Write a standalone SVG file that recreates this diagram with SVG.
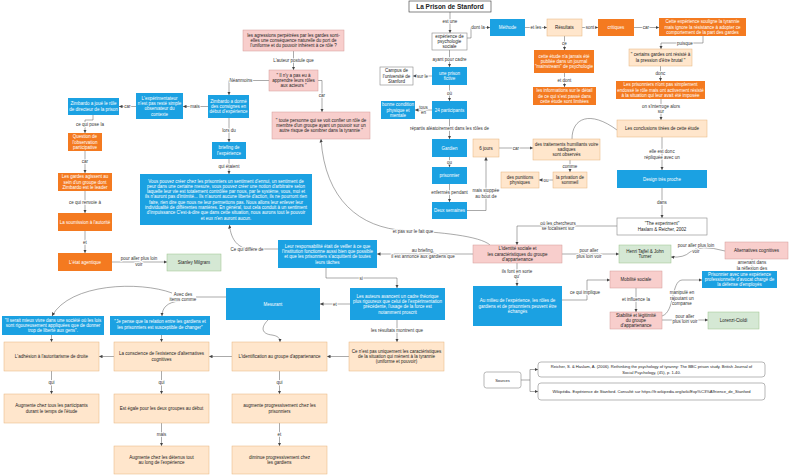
<svg xmlns="http://www.w3.org/2000/svg" width="800" height="475" viewBox="0 0 800 475">
<defs>
<style>
.b{fill:#1ba1e2}
.o{fill:#f47a20}
.lo{fill:#ffe6cc;stroke:#e6b47c;stroke-width:.5}
.pk{fill:#f8cecc;stroke:#d49a98;stroke-width:.5}
.gr{fill:#d5e8d4;stroke:#9cc28a;stroke-width:.5}
.w{fill:#fff;stroke:#888;stroke-width:.6}
text{font-family:"Liberation Sans",Arial,sans-serif;font-size:4.5px;text-anchor:middle}
.wt{fill:#fff}
.dk{fill:#222}
.l{fill:#333;stroke:#fff;stroke-width:1.6;paint-order:stroke}
.e{fill:none;stroke:#555;stroke-width:.5}
.ea{fill:none;stroke:#555;stroke-width:.5;marker-end:url(#a)}
</style>
<marker id="a" viewBox="0 0 6 6" refX="6" refY="3" markerWidth="3.5" markerHeight="3.5" markerUnits="userSpaceOnUse" orient="auto"><path d="M0,0 L6,3 L0,6 z" fill="#444"/></marker>
</defs>
<rect width="800" height="475" fill="#fff"/>

<g id="connectors">
<path class="ea" d="M450,12 V33"/><text class="l" x="450" y="23">est une</text>
<path class="ea" d="M467,38 H471 V27.5 H490"/><text class="l" x="478" y="29">dont la</text>
<path class="ea" d="M525,27.5 H547"/><text class="l" x="536" y="29">et les</text>
<path class="ea" d="M582,27.5 H598"/><text class="l" x="590" y="29">sont</text>
<path class="ea" d="M634,27.5 H659"/><text class="l" x="646" y="29">car</text>
<path class="ea" d="M564.5,36 V50"/><text class="l" x="564.5" y="44.5">ce</text>
<path class="ea" d="M564.5,73 V87"/><text class="l" x="564.5" y="81.5">et dont</text>
<path class="ea" d="M703,36 V43 H661 V49"/><text class="l" x="685" y="44.5">puisque</text>
<path class="ea" d="M660.5,66 V81"/><text class="l" x="660.5" y="75">donc</text>
<path class="ea" d="M661,99 V120"/><text class="l" x="661" y="107.5">on s'interroge alors</text><text class="l" x="661" y="113">sur</text>
<path class="ea" d="M662,137 V170"/><text class="l" x="662" y="153">elle est donc</text><text class="l" x="662" y="158.5">répliquée avec un</text>
<path class="ea" d="M662,188 V218"/><text class="l" x="662" y="204">dans</text>
<path class="ea" d="M617,226 H517 V245"/><text class="l" x="558" y="224.5">où les chercheurs</text><text class="l" x="558" y="230">se focalisent sur</text>
<path class="ea" d="M449.5,50 V67"/><text class="l" x="449.5" y="60.5">ayant pour cadre</text>
<path class="ea" d="M432,76 H413"/><text class="l" x="422.5" y="77.5">sur le</text>
<path class="ea" d="M449.5,85 V101"/><text class="l" x="449.5" y="94.5">où</text>
<path class="ea" d="M432,110 H415"/><text class="l" x="423.5" y="108.5">tous</text><text class="l" x="423.5" y="114">en</text>
<path class="ea" d="M449.5,119 V139"/><text class="l" x="449.5" y="130">répartis aléatoirement dans les rôles de</text>
<path class="ea" d="M449.5,157 V167"/><text class="l" x="449.5" y="163.5">ou</text>
<path class="ea" d="M449.5,184 V202"/><text class="l" x="449.5" y="193.5">enfermés pendant</text>
<path class="ea" d="M467,210.5 H486 V157"/><text class="l" x="486" y="192">mais stoppée</text><text class="l" x="486" y="197.5">au bout de</text>
<path class="ea" d="M499,148 H533"/><text class="l" x="516" y="149.5">car</text>
<path class="ea" d="M570,160 V172"/><text class="l" x="570" y="167.5">comme</text>
<path class="ea" d="M553,180 H539"/><text class="l" x="546" y="181.5">ou</text>
<path class="e" d="M572,139 C572,118 590,110 617,130"/>
<path class="ea" d="M293.5,51 V70"/><text class="l" x="293.5" y="61.5">L'auteur postule que</text>
<path class="ea" d="M269,80.5 H229 V95"/><text class="l" x="241" y="82">Néanmoins</text>
<path class="ea" d="M318,80.5 H322 V112"/><text class="l" x="322" y="97">car</text>
<path class="ea" d="M208,106.5 H183"/><text class="l" x="195" y="108">mais</text>
<path class="ea" d="M136,106.5 H119"/><text class="l" x="127.5" y="108">car</text>
<path class="ea" d="M93,115 V120 H85 V133"/><text class="l" x="90" y="125.5">ce qui pose la</text>
<path class="ea" d="M85,151 V173"/><text class="l" x="85" y="162.5">car</text>
<path class="ea" d="M85,191 V213"/><text class="l" x="85" y="203.5">ce qui renvoie à</text>
<path class="ea" d="M85,231 V253"/><text class="l" x="85" y="244">et</text>
<path class="ea" d="M112,262 H167"/><text class="l" x="139" y="260">pour aller plus loin</text><text class="l" x="139" y="265.5">voir</text>
<path class="ea" d="M229,118 V142"/><text class="l" x="229" y="131.5">lors du</text>
<path class="ea" d="M229,159 V174"/><text class="l" x="229" y="167.5">qui étaient</text>
<path class="ea" d="M278,249 H252 C238,249 231,240 229.5,225"/><text class="l" x="247" y="250.5">Ce qui diffère de</text>
<path class="ea" d="M473,254 H377"/><text class="l" x="423" y="252">au briefing,</text><text class="l" x="423" y="257.5">il est annoncé aux gardiens que</text>
<path class="ea" d="M562,254 H619"/><text class="l" x="589" y="252">pour aller</text><text class="l" x="589" y="257.5">plus loin voir</text>
<path class="ea" d="M725,251 Q700,244 690,252 Q684,258 671,257"/><text class="l" x="696" y="247">pour aller plus loin</text><text class="l" x="696" y="252.5">voir</text>
<path class="ea" d="M752,259 V271"/><text class="l" x="752" y="264">amenant dans</text><text class="l" x="752" y="269.5">la réflexion des</text>
<path class="ea" d="M562,300 H587 V280 H610"/><text class="l" x="585" y="293.5">ce qui implique</text>
<path class="ea" d="M517,263 V286"/><text class="l" x="517" y="272.5">ils font en sorte</text><text class="l" x="517" y="278">qu'</text>
<path class="ea" d="M636,288 V312"/><text class="l" x="636" y="301">et influence la</text>
<path class="ea" d="M662,316 C675,312 671,281 682,280 H702"/><text class="l" x="682" y="294">manipulé en</text><text class="l" x="682" y="299.5">rajoutant un</text><text class="l" x="682" y="305">comparse</text>
<path class="ea" d="M662,320 H708"/><text class="l" x="685" y="317.5">pour aller</text><text class="l" x="685" y="323">plus loin voir</text>
<path class="ea" d="M326,268 V278 H397 V288"/><text class="l" x="361" y="280">si</text>
<path class="ea" d="M350,304 H320"/><text class="l" x="335" y="305.5">et</text>
<path class="ea" d="M397,320 V342"/><text class="l" x="397" y="331.5">les résultats montrent que</text>
<path class="ea" d="M349,356.5 H327"/>
<path class="ea" d="M279.5,371 V394"/><text class="l" x="279.5" y="384">qui</text>
<path class="ea" d="M279.5,423 V446"/><text class="l" x="279.5" y="436">et</text>
<path class="ea" d="M232,356.5 H209"/>
<path class="ea" d="M161.5,371 V394"/><text class="l" x="161.5" y="384">qui</text>
<path class="ea" d="M161.5,423 V446"/><text class="l" x="161.5" y="436">mais</text>
<path class="ea" d="M114,356.5 H99"/>
<path class="ea" d="M51.5,371 V394"/><text class="l" x="51.5" y="384">qui</text>
<path class="ea" d="M51.5,335 V342"/>
<path class="ea" d="M161.5,335 V342"/>
<path class="e" d="M226,297 H196"/>
<path class="ea" d="M172,293 C140,281 70,283 52,316"/>
<path class="ea" d="M180,301 C167,302 162,308 162,316"/>
<text class="l" x="183" y="295.5">Avec des</text><text class="l" x="183" y="301">items comme</text>
<path class="ea" d="M268,320 C260,328 262,334 272,335 C278,336 280,338 280,342"/>
<path class="ea" d="M490,245 C480,236 440,232 405,230.5 C360,228 325,200 321,139"/><text class="l" x="413" y="232.5">et pas sur le fait que</text>
<path class="ea" d="M521,380 H530 V369.5 H538"/>
<path class="ea" d="M530,380 V391.5 H538"/>
</g>

<g id="title"><rect x="409" y="1" width="82" height="11" fill="#fff" stroke="#333" stroke-width=".6"/><text x="450" y="9" style="font-size:6.5px;font-weight:bold" class="dk">La Prison de Stanford</text></g>
<g id="experience"><rect class="w" x="432" y="33" width="35" height="17"/><text class="dk" x="449.5" y="37.7">expérience de</text><text class="dk" x="449.5" y="43">psychologie</text><text class="dk" x="449.5" y="48.3">sociale</text></g>
<g id="methode"><rect class="b" x="490" y="19" width="35" height="17"/><text class="wt" x="507.5" y="29">Méthode</text></g>
<g id="resultats"><rect class="lo" x="547" y="19" width="35" height="17"/><text class="dk" x="564.5" y="29">Résultats</text></g>
<g id="critiques"><rect class="o" x="598" y="19" width="36" height="17"/><text class="wt" x="616" y="29">critiques</text></g>
<g id="cette-experience"><rect class="o" x="659" y="18" width="87" height="18"/><text class="wt" x="702.5" y="23.2">Cette expérience souligne la tyrannie</text><text class="wt" x="702.5" y="28.5">mais ignore la résistance à adopter ce</text><text class="wt" x="702.5" y="33.8">comportement de la part des gardes</text></g>
<g id="certains-gardes"><rect class="lo" x="629" y="49" width="63" height="17"/><text class="dk" x="660.5" y="56.4">" certains gardes ont résisté à</text><text class="dk" x="660.5" y="61.7">la pression d'être brutal "</text></g>
<g id="prisonniers-resiste"><rect class="o" x="616" y="81" width="89" height="18"/><text class="wt" x="660.5" y="86.2">Les prisonniers n'ont pas simplement</text><text class="wt" x="660.5" y="91.5">endossé le rôle mais ont activement résisté</text><text class="wt" x="660.5" y="96.8">à la situation qui leur avait été imposée</text></g>
<g id="conclusions"><rect class="lo" x="617" y="120" width="90" height="17"/><text class="dk" x="662" y="130">Les conclusions tirées de cette étude</text></g>
<g id="design"><rect class="b" x="617" y="170" width="90" height="18"/><text class="wt" x="662" y="180.5">Design très proche</text></g>
<g id="the-experiment"><rect class="w" x="617" y="218" width="90" height="17"/><text class="dk" x="662" y="225.4">"The experiment"</text><text class="dk" x="662" y="230.7">Haslam &amp; Reicher, 2002</text></g>
<g id="jamais-publiee"><rect class="o" x="534" y="50" width="60" height="23"/><text class="wt" x="564" y="57.7">cette étude n'a jamais été</text><text class="wt" x="564" y="63">publiée dans un journal</text><text class="wt" x="564" y="68.3">"mainstream" de psychologie</text></g>
<g id="informations"><rect class="o" x="533" y="87" width="63" height="18"/><text class="wt" x="564.5" y="92.2">les informations sur le détail</text><text class="wt" x="564.5" y="97.5">de ce qui s'est passé dans</text><text class="wt" x="564.5" y="102.8">cette étude sont limitées</text></g>
<g id="prison-fictive"><rect class="b" x="432" y="67" width="35" height="18"/><text class="wt" x="449.5" y="74.9">une prison</text><text class="wt" x="449.5" y="80.2">fictive</text></g>
<g id="campus"><rect class="w" x="380" y="67" width="33" height="18"/><text class="dk" x="396.5" y="72.2">Campus de</text><text class="dk" x="396.5" y="77.5">l'université de</text><text class="dk" x="396.5" y="82.8">Stanford</text></g>
<g id="participants"><rect class="b" x="432" y="101" width="35" height="18"/><text class="wt" x="449.5" y="111.5">24 participants</text></g>
<g id="bonne-condition"><rect class="b" x="381" y="101" width="34" height="18"/><text class="wt" x="398" y="106.2">bonne condition</text><text class="wt" x="398" y="111.5">physique et</text><text class="wt" x="398" y="116.8">mentale</text></g>
<g id="gardien"><rect class="b" x="432" y="139" width="35" height="18"/><text class="wt" x="449.5" y="149.5">Gardien</text></g>
<g id="prisonnier"><rect class="b" x="432" y="167" width="35" height="17"/><text class="wt" x="449.5" y="177">prisonnier</text></g>
<g id="deux-semaines"><rect class="b" x="432" y="202" width="35" height="17"/><text class="wt" x="449.5" y="212">Deux semaines</text></g>
<g id="six-jours"><rect class="lo" x="473" y="139" width="26" height="18"/><text class="dk" x="486" y="149.5">6 jours</text></g>
<g id="traitements"><rect class="lo" x="533" y="139" width="67" height="21"/><text class="dk" x="566.5" y="145.7">des traitements humiliants voire</text><text class="dk" x="566.5" y="151">sadiques</text><text class="dk" x="566.5" y="156.3">sont observés</text></g>
<g id="privation"><rect class="lo" x="553" y="172" width="34" height="16"/><text class="dk" x="570" y="178.9">la privation de</text><text class="dk" x="570" y="184.2">sommeil</text></g>
<g id="punitions"><rect class="lo" x="501" y="172" width="38" height="16"/><text class="dk" x="520" y="178.9">des punitions</text><text class="dk" x="520" y="184.2">physiques</text></g>
<g id="agressions"><rect class="pk" x="243" y="30" width="101" height="21"/><text class="dk" x="293.5" y="36.7">les agressions perpétrées par les gardes sont-</text><text class="dk" x="293.5" y="42">elles une conséquence naturelle du port de</text><text class="dk" x="293.5" y="47.3">l'uniforme et du pouvoir inhérent à ce rôle ?</text></g>
<g id="pas-appris"><rect class="pk" x="269" y="70" width="49" height="21"/><text class="dk" x="293.5" y="76.7">" Il n'y a pas eu à</text><text class="dk" x="293.5" y="82">apprendre leurs rôles</text><text class="dk" x="293.5" y="87.3">aux acteurs "</text></g>
<g id="toute-personne"><rect class="pk" x="272" y="112" width="98" height="27"/><text class="dk" x="321" y="121.7">" toute personne qui se voit confier un rôle de</text><text class="dk" x="321" y="127">membre d'un groupe ayant un pouvoir sur un</text><text class="dk" x="321" y="132.3">autre risque de sombrer dans la tyrannie "</text></g>
<g id="zimbardo-consignes"><rect class="b" x="208" y="95" width="41" height="23"/><text class="wt" x="228.5" y="102.7">Zimbardo a donné</text><text class="wt" x="228.5" y="108">des consignes en</text><text class="wt" x="228.5" y="113.3">début d'expérience</text></g>
<g id="briefing"><rect class="b" x="212" y="142" width="34" height="17"/><text class="wt" x="229" y="149.4">briefing de</text><text class="wt" x="229" y="154.7">l'expérience</text></g>
<g id="paragraphe"><rect class="b" x="140" y="174" width="172" height="51"/>
<text class="wt" x="226" y="182.5">Vous pouvez créer chez les prisonniers un sentiment d'ennui, un sentiment de</text>
<text class="wt" x="226" y="187.8">peur dans une certaine mesure, vous pouvez créer une notion d'arbitraire selon</text>
<text class="wt" x="226" y="193.1">laquelle leur vie est totalement contrôlée par nous, par le système, vous, moi et</text>
<text class="wt" x="226" y="198.4">ils n'auront pas d'intimité... Ils n'auront aucune liberté d'action, ils ne pourront rien</text>
<text class="wt" x="226" y="203.7">faire, rien dire que nous ne leur permettons pas. Nous allons leur enlever leur</text>
<text class="wt" x="226" y="209">individualité de différentes manières. En général, tout cela conduit à un sentiment</text>
<text class="wt" x="226" y="214.3">d'impuissance C'est-à-dire que dans cette situation, nous aurons tout le pouvoir</text>
<text class="wt" x="226" y="219.6">et eux n'en auront aucun.</text></g>
<g id="experimentateur"><rect class="b" x="136" y="93" width="47" height="26"/><text class="wt" x="159.5" y="99.6">L'expérimentateur</text><text class="wt" x="159.5" y="104.9">n'est pas resté simple</text><text class="wt" x="159.5" y="110.2">observateur du</text><text class="wt" x="159.5" y="115.5">contexte</text></g>
<g id="zimbardo-directeur"><rect class="b" x="68" y="98" width="51" height="17"/><text class="wt" x="93.5" y="105.4">Zimbardo a joué le rôle</text><text class="wt" x="93.5" y="110.7">de directeur de la prison</text></g>
<g id="observation"><rect class="o" x="68" y="133" width="34" height="18"/><text class="wt" x="85" y="138.2">Question de</text><text class="wt" x="85" y="143.5">l'observation</text><text class="wt" x="85" y="148.8">participative</text></g>
<g id="gardes-groupe"><rect class="o" x="58" y="173" width="54" height="18"/><text class="wt" x="85" y="178.2">Les gardes agissent au</text><text class="wt" x="85" y="183.5">sein d'un groupe dont</text><text class="wt" x="85" y="188.8">Zimbardo est le leader</text></g>
<g id="soumission"><rect class="o" x="58" y="213" width="54" height="18"/><text class="wt" x="85" y="223.5">La soumission à l'autorité</text></g>
<g id="etat-agentique"><rect class="o" x="58" y="253" width="54" height="18"/><text class="wt" x="85" y="263.5">L'état agentique</text></g>
<g id="milgram"><rect class="gr" x="167" y="254" width="54" height="17"/><text class="dk" x="194" y="264">Stanley Milgram</text></g>
<g id="responsabilite"><rect class="b" x="278" y="240" width="99" height="28"/><text class="wt" x="327.5" y="247.6">Leur responsabilité était de veiller à ce que</text><text class="wt" x="327.5" y="252.9">l'institution fonctionne aussi bien que possible</text><text class="wt" x="327.5" y="258.2">et que les prisonniers s'acquittent de toutes</text><text class="wt" x="327.5" y="263.5">leurs tâches</text></g>
<g id="identite-sociale"><rect class="pk" x="473" y="245" width="89" height="18"/><text class="dk" x="517.5" y="250.2">L'identité sociale et</text><text class="dk" x="517.5" y="255.5">les caractéristiques du groupe</text><text class="dk" x="517.5" y="260.8">d'appartenance</text></g>
<g id="tajfel"><rect class="gr" x="619" y="245" width="52" height="18"/><text class="dk" x="645" y="252.9">Henri Tajfel &amp; John</text><text class="dk" x="645" y="258.2">Turner</text></g>
<g id="alternatives"><rect class="pk" x="725" y="242" width="63" height="17"/><text class="dk" x="756.5" y="252">Alternatives cognitives</text></g>
<g id="avocat"><rect class="b" x="702" y="271" width="75" height="17"/><text class="wt" x="739.5" y="275.9">Prisonnier avec une expérience</text><text class="wt" x="739.5" y="281">professionnelle d'avocat chargé de</text><text class="wt" x="739.5" y="286.1">la défense d'employés</text></g>
<g id="mobilite"><rect class="pk" x="610" y="271" width="52" height="17"/><text class="dk" x="636" y="281">Mobilité sociale</text></g>
<g id="stabilite"><rect class="pk" x="610" y="312" width="52" height="17"/><text class="dk" x="636" y="316.9">Stabilité et légitimité</text><text class="dk" x="636" y="322">du groupe</text><text class="dk" x="636" y="327.1">d'appartenance</text></g>
<g id="lorenzi"><rect class="gr" x="708" y="312" width="51" height="17"/><text class="dk" x="733.5" y="322">Lorenzi-Cioldi</text></g>
<g id="roles-echanges"><rect class="b" x="473" y="286" width="89" height="40"/><text class="wt" x="517.5" y="302.2">Au milieu de l'expérience, les rôles de</text><text class="wt" x="517.5" y="307.5">gardiens et de prisonniers peuvent être</text><text class="wt" x="517.5" y="312.8">échangés</text></g>
<g id="cadre-theorique"><rect class="b" x="350" y="288" width="95" height="32"/><text class="wt" x="397.5" y="297.6">Les auteurs avancent un cadre théorique</text><text class="wt" x="397.5" y="302.9">plus rigoureux que celui de l'expérimentation</text><text class="wt" x="397.5" y="308.2">précédente, l'usage de la force est</text><text class="wt" x="397.5" y="313.5">notamment proscrit</text></g>
<g id="mesurant"><rect class="b" x="226" y="288" width="94" height="32"/><text class="wt" x="273" y="305.5">Mesurant</text></g>
<g id="pas-uniquement"><rect class="lo" x="349" y="342" width="95" height="29"/><text class="dk" x="396.5" y="352.7">Ce n'est pas uniquement les caractéristiques</text><text class="dk" x="396.5" y="358">de la situation qui mènent à la tyrannie</text><text class="dk" x="396.5" y="363.3">(uniforme et pouvoir)</text></g>
<g id="identification"><rect class="lo" x="232" y="342" width="95" height="29"/><text class="dk" x="279.5" y="358">L'identification au groupe d'appartenance</text></g>
<g id="augmente-prisonniers"><rect class="lo" x="232" y="394" width="95" height="29"/><text class="dk" x="279.5" y="407.4">augmente progressivement chez les</text><text class="dk" x="279.5" y="412.7">prisonniers</text></g>
<g id="diminue-gardiens"><rect class="lo" x="232" y="446" width="95" height="28"/><text class="dk" x="279.5" y="458.9">diminue progressivement chez</text><text class="dk" x="279.5" y="464.2">les gardiens</text></g>
<g id="conscience"><rect class="lo" x="114" y="342" width="95" height="29"/><text class="dk" x="161.5" y="355.4">La conscience de l'existence d'alternatives</text><text class="dk" x="161.5" y="360.7">cognitives</text></g>
<g id="egale"><rect class="lo" x="114" y="394" width="95" height="29"/><text class="dk" x="161.5" y="410">Est égale pour les deux groupes au début</text></g>
<g id="augmente-detenus"><rect class="lo" x="114" y="446" width="95" height="28"/><text class="dk" x="161.5" y="458.9">Augmente chez les détenus tout</text><text class="dk" x="161.5" y="464.2">au long de l'expérience</text></g>
<g id="adhesion"><rect class="lo" x="4" y="342" width="95" height="29"/><text class="dk" x="51.5" y="358">L'adhésion à l'autoritarisme de droite</text></g>
<g id="augmente-tous"><rect class="lo" x="4" y="394" width="95" height="29"/><text class="dk" x="51.5" y="407.4">Augmente chez tous les participants</text><text class="dk" x="51.5" y="412.7">durant le temps de l'étude</text></g>
<g id="citation-lois"><rect class="b" x="2" y="316" width="102" height="19"/><text class="wt" x="53" y="321.7">"Il serait mieux vivre dans une société où les lois</text><text class="wt" x="53" y="327">sont rigoureusement appliquées que de donner</text><text class="wt" x="53" y="332.3">trop de liberté aux gens".</text></g>
<g id="citation-relation"><rect class="b" x="110" y="316" width="100" height="19"/><text class="wt" x="160" y="323.4">"Je pense que la relation entre les gardiens et</text><text class="wt" x="160" y="328.7">les prisonniers est susceptible de changer"</text></g>
<g id="sources"><rect x="484" y="372" width="37" height="16" rx="2.5" class="w"/><text class="dk" x="502.5" y="381.5" style="font-size:4px">Sources</text></g>
<g id="ref-reicher"><rect x="538" y="362" width="227" height="15" rx="3" class="w"/><text class="dk" x="651.5" y="368" style="font-size:4.1px">Reicher, S. &amp; Haslam, A. (2006). Rethinking the psychology of tyranny: The BBC prison study. British Journal of</text><text class="dk" x="651.5" y="373.5" style="font-size:4.1px">Social Psychology, (45), p. 1-40.</text></g>
<g id="ref-wikipedia"><rect x="538" y="383" width="227" height="17" rx="3" class="w"/><text class="dk" x="651.5" y="393" style="font-size:4.1px">Wikipédia. Expérience de Stanford. Consulté sur https://fr.wikipedia.org/wiki/Exp%C3%A9rience_de_Stanford</text></g>
</svg>
